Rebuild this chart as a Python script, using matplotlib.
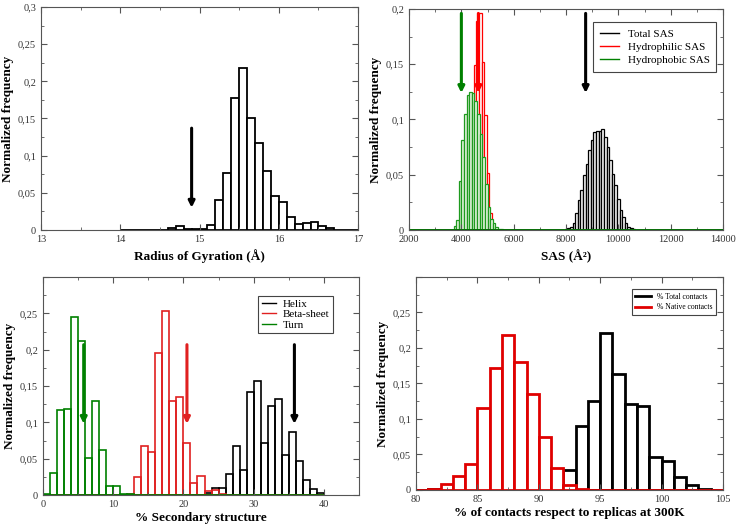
import matplotlib.pyplot as plt
import numpy as np
from matplotlib.ticker import MultipleLocator, FuncFormatter

plt.rcParams['font.family'] = ['Liberation Serif', 'DejaVu Serif']

# Radius of gyration histogram (bin width 0.1, starting at 14.0)
rg_start = 14.0
rg_width = 0.1
rg_freq = [0, 0, 0, 0, 0, 0, 0.003, 0.005, 0.001, 0.001, 0.001, 0.007, 0.040, 0.077, 0.177,
           0.218, 0.150, 0.117, 0.079, 0.046, 0.037, 0.018, 0.008, 0.010, 0.011, 0.005,
           0.003, 0, 0, 0]
rg_arrow = 14.9

# SAS histograms (bin width 100)
sas_width = 100
total_start = 7950
total_freq = [0.001, 0.002, 0.003, 0.006, 0.015, 0.027, 0.036, 0.050, 0.060, 0.072, 0.081,
              0.089, 0.090, 0.090, 0.091, 0.084, 0.075, 0.063, 0.051, 0.041, 0.028, 0.018,
              0.012, 0.006, 0.003, 0.002, 0.001]
philic_start = 3975
philic_freq = [0.003, 0.010, 0.030, 0.070, 0.120, 0.149, 0.189, 0.196, 0.152, 0.104,
               0.052, 0.015, 0.003]
phobic_start = 3700
phobic_freq = [0.004, 0.009, 0.044, 0.081, 0.105, 0.122, 0.125, 0.124, 0.117, 0.105,
               0.087, 0.066, 0.042, 0.021, 0.010, 0.006, 0.003, 0.001, 0.001]
sas_arrows = {'Total SAS': 8750, 'Hydrophilic SAS': 4650, 'Hydrophobic SAS': 4000}

# Secondary structure histograms (bin width 1, starting at 0)
ss_bins = np.arange(0, 41)
helix = [0] * 23 + [0.003, 0.010, 0.009, 0.029, 0.067, 0.034, 0.142, 0.157, 0.071, 0.123,
                    0.132, 0.055, 0.087, 0.047, 0.020, 0.008, 0.003]
beta = [0] * 12 + [0.001, 0.025, 0.067, 0.059, 0.195, 0.254, 0.130, 0.135, 0.071, 0.016,
                   0.026, 0.006, 0.007, 0.002, 0, 0, 0, 0, 0, 0, 0, 0, 0, 0, 0, 0, 0, 0]
turn = [0.002, 0.031, 0.117, 0.118, 0.245, 0.212, 0.051, 0.129, 0.062, 0.012, 0.012,
        0.002, 0.001] + [0] * 27
ss_arrows = {'Helix': 35.8, 'Beta-sheet': 20.5, 'Turn': 5.8}

# Contacts histograms (bin width 1)
ct_bins = np.arange(80, 105)
total_ct = [0, 0.001, 0, 0, 0, 0, 0, 0, 0, 0, 0.009, 0.011, 0.028, 0.090, 0.125, 0.221,
            0.163, 0.121, 0.118, 0.046, 0.041, 0.018, 0.007, 0.002, 0]
native_ct = [0, 0.001, 0.008, 0.019, 0.036, 0.115, 0.172, 0.218, 0.180, 0.135, 0.075,
             0.031, 0.007, 0.001, 0, 0, 0, 0, 0, 0, 0, 0, 0, 0, 0]

tick_col = '#555555'


def comma(v, pos):
    if abs(v) < 1e-9:
        return '0'
    return ('%g' % round(v, 3)).replace('.', ',')


def style(ax, xmaj, xmin, hide_top=False):
    ax.xaxis.set_major_locator(MultipleLocator(xmaj))
    ax.xaxis.set_minor_locator(MultipleLocator(xmin))
    ax.yaxis.set_major_locator(MultipleLocator(0.05))
    ax.yaxis.set_minor_locator(MultipleLocator(0.025))
    if hide_top:
        ax.yaxis.set_major_formatter(FuncFormatter(
            lambda v, p: '' if v > 0.29 else comma(v, p)))
    else:
        ax.yaxis.set_major_formatter(FuncFormatter(comma))
    ax.tick_params(which='both', direction='in', top=True, right=True, colors=tick_col,
                   labelsize=7.5, labelcolor='#333333')
    ax.tick_params(which='major', length=4)
    ax.tick_params(which='minor', length=2)
    for s in ax.spines.values():
        s.set_color(tick_col)
        s.set_linewidth(0.8)
    ax.set_ylabel('Normalized frequency', fontsize=9.5, fontweight='bold', labelpad=3)


def arrow(ax, x, y0, y1, color):
    ax.annotate('', xy=(x, y1), xytext=(x, y0),
                arrowprops=dict(arrowstyle='-|>', color=color, lw=2.2, mutation_scale=9,
                                shrinkA=0, shrinkB=0))


def legend(ax, **kw):
    opts = dict(loc='upper right', frameon=True, fancybox=False, edgecolor='#444444',
                framealpha=1)
    opts.update(kw)
    leg = ax.legend(**opts)
    leg.get_frame().set_linewidth(0.8)
    return leg


fig = plt.figure(figsize=(7.41, 5.25), dpi=100)

# Panel 1: radius of gyration
ax1 = fig.add_axes([0.0553, 0.5619, 0.428, 0.4248])
x = rg_start + rg_width * np.arange(len(rg_freq))
ax1.bar(x, rg_freq, width=rg_width, align='edge', color='white', edgecolor='black', lw=1.3)
arrow(ax1, rg_arrow, 0.137, 0.03, 'black')
ax1.set_xlim(13, 17)
ax1.set_ylim(0, 0.3)
style(ax1, 1, 0.5)
ax1.set_xlabel('Radius of Gyration (Å)', fontsize=9.5, fontweight='bold', labelpad=4)

# Panel 2: SAS
ax2 = fig.add_axes([0.552, 0.5619, 0.4237, 0.421])
ax2.axhline(0, color='black', lw=1.2)
ax2.axhline(0, color='green', lw=1.2)
xt = total_start + sas_width * np.arange(len(total_freq))
ax2.bar(xt, total_freq, width=sas_width, align='edge', color='#f4f4f4', edgecolor='black', lw=0.9)
xp = philic_start + sas_width * np.arange(len(philic_freq))
ax2.bar(xp, philic_freq, width=sas_width, align='edge', color='white', edgecolor='red', lw=0.9)
xb = phobic_start + sas_width * np.arange(len(phobic_freq))
ax2.bar(xb, phobic_freq, width=sas_width, align='edge', color='#e4f3de',
        edgecolor='#1e9a1e', lw=0.9)
sas_colors = {'Total SAS': 'black', 'Hydrophilic SAS': 'red', 'Hydrophobic SAS': 'green'}
for name, xa in sas_arrows.items():
    arrow(ax2, xa, 0.196, 0.124, sas_colors[name])
    ax2.plot([], [], color=sas_colors[name], lw=1, label=name)
ax2.set_xlim(2000, 14000)
ax2.set_ylim(0, 0.2)
style(ax2, 2000, 1000)
ax2.set_xlabel('SAS (Å²)', fontsize=9.5, fontweight='bold', labelpad=4)
legend(ax2, fontsize=8, handlelength=1.7, borderpad=0.6, labelspacing=0.3,
       bbox_to_anchor=(0.997, 0.965))

# Panel 3: secondary structure
ax3 = fig.add_axes([0.058, 0.0571, 0.4265, 0.415])
ss_colors = {'Helix': 'black', 'Beta-sheet': '#e02020', 'Turn': 'green'}
for name, vals in [('Helix', helix), ('Beta-sheet', beta), ('Turn', turn)]:
    ax3.bar(ss_bins[:len(vals)], vals, width=1, align='edge', color='none',
            edgecolor=ss_colors[name], lw=1.2)
    ax3.plot([], [], color=ss_colors[name], lw=1, label=name)
for name, xa in ss_arrows.items():
    arrow(ax3, xa, 0.207, 0.098, ss_colors[name])
ax3.set_xlim(0, 45)
ax3.set_ylim(0, 0.3)
style(ax3, 10, 5, hide_top=True)
ax3.set_xlabel('% Secondary structure', fontsize=9.5, fontweight='bold', labelpad=2)
legend(ax3, fontsize=8, handlelength=1.3, borderpad=0.3, labelspacing=0.05,
       handletextpad=0.6, bbox_to_anchor=(0.934, 0.94))

# Panel 4: contacts
ax4 = fig.add_axes([0.5614, 0.0667, 0.4143, 0.4057])
ax4.bar(ct_bins, total_ct, width=1, align='edge', color='white', edgecolor='black', lw=2)
ax4.bar(ct_bins, native_ct, width=1, align='edge', color='white', edgecolor='#e00000', lw=2)
ax4.plot([], [], color='black', lw=2, label='% Total contacts')
ax4.plot([], [], color='#e00000', lw=2, label='% Native contacts')
ax4.set_xlim(80, 105)
ax4.set_ylim(0, 0.3)
style(ax4, 5, 2.5, hide_top=True)
ax4.set_xlabel('% of contacts respect to replicas at 300K', fontsize=9.5, fontweight='bold',
               labelpad=2)
legend(ax4, fontsize=5.5, handlelength=2, borderpad=0.5, labelspacing=0.3,
       bbox_to_anchor=(0.99, 0.96))

fig.savefig('out.png', dpi=100)
